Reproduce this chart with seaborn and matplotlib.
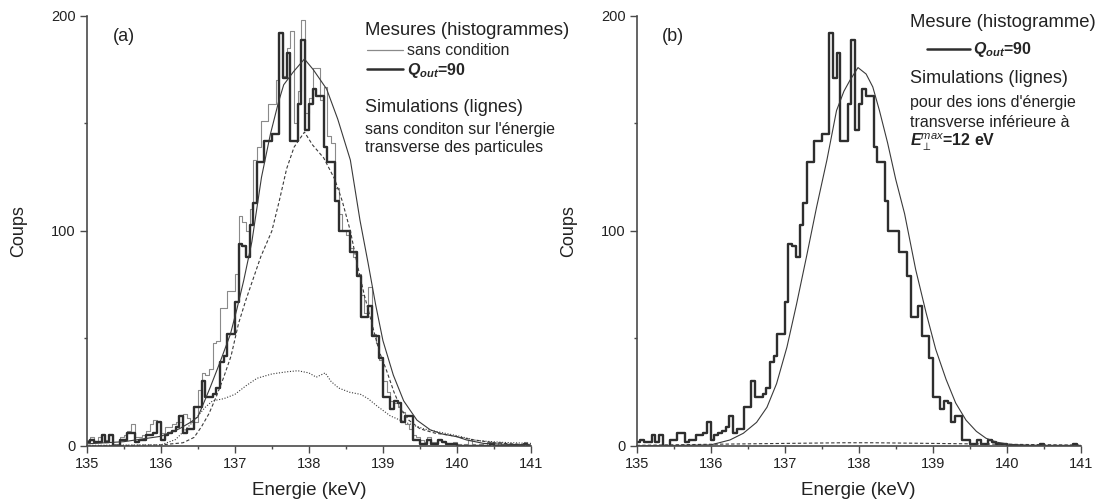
import numpy as np
import pandas as pd
import matplotlib
matplotlib.use("Agg")
import matplotlib.pyplot as plt
import seaborn as sns
from matplotlib.lines import Line2D
from matplotlib.ticker import MultipleLocator

# histogram binning (keV)
e_min = 135.0
e_max = 141.0
bin_width = 0.05

# measured counts per bin, Q_out = 90 (same data in both panels)
counts_q90 = [
    2, 3, 2, 2, 5, 2, 5, 0, 0, 3,
    3, 6, 6, 2, 3, 3, 5, 5, 6, 11,
    3, 5, 6, 7, 9, 14, 6, 8, 8, 18,
    18, 30, 23, 23, 24, 27, 39, 42, 52, 52,
    67, 94, 93, 88, 103, 113, 132, 132, 142, 142,
    145, 145, 192, 171, 183, 142, 142, 159, 189, 147,
    159, 166, 163, 163, 139, 132, 132, 114, 100, 100,
    100, 90, 90, 79, 60, 60, 65, 51, 51, 41,
    23, 23, 17, 21, 20, 11, 14, 14, 3, 3,
    1, 1, 3, 1, 1, 3, 2, 1, 1, 1,
    0, 0, 0, 0, 0, 0, 0, 0, 0, 1,
    0, 0, 0, 0, 0, 0, 0, 0, 1, 0,
]

# measured counts per bin, no condition
counts_all = [
    3, 4, 2, 4, 5, 3, 5, 1, 1, 4,
    5, 7, 10, 4, 4, 5, 7, 10, 12, 11,
    6, 9, 9, 10, 11, 11, 15, 13, 11, 11,
    26, 34, 33, 36, 48, 49, 64, 64, 72, 72,
    80, 107, 104, 100, 110, 133, 139, 151, 151, 159,
    159, 170, 192, 172, 185, 193, 150, 165, 198, 155,
    162, 176, 176, 161, 167, 144, 141, 120, 108, 100,
    98, 92, 88, 80, 70, 62, 74, 52, 48, 40,
    30, 25, 21, 20, 18, 16, 10, 8, 5, 4,
    3, 2, 4, 2, 2, 3, 2, 1, 1, 2,
    1, 0, 1, 3, 1, 0, 1, 0, 2, 2,
    0, 2, 0, 0, 0, 0, 0, 1, 2, 0,
]

# simulations, panel (a)
sim_a_energy = [135.0, 135.5, 136.0, 136.25, 136.4, 136.5, 136.58, 136.67, 136.8, 136.94,
                137.03, 137.12, 137.23, 137.36, 137.48, 137.59, 137.66, 137.79, 137.94, 138.06,
                138.18, 138.24, 138.39, 138.56, 138.69, 138.8, 138.9, 139.0, 139.14, 139.28,
                139.46, 139.64, 139.8, 140.0, 140.13, 140.36, 140.63, 141.0]
sim_a_total = [1, 2, 4.5, 8, 11, 13.5, 20, 27.5, 39, 52,
               64, 77, 95, 125, 145, 160, 168, 174, 180, 175,
               169, 166, 152, 133, 105, 85, 66, 49, 33, 21,
               12, 7.5, 5.6, 4.3, 2.8, 1.2, 0.8, 0.5]

dash_a_energy = [135.0, 136.0, 136.3, 136.45, 136.55, 136.65, 136.75, 136.85, 136.95, 137.05,
                 137.15, 137.25, 137.35, 137.5, 137.6, 137.7, 137.8, 137.94, 138.05, 138.2,
                 138.35, 138.45, 138.56, 138.65, 138.75, 138.85, 138.95, 139.05, 139.15, 139.25,
                 139.35, 139.5, 139.7, 139.9, 140.2, 140.5, 141.0]
dash_a_counts = [0, 0.5, 1.5, 4, 9, 15, 23, 32, 42, 57,
                 68, 78, 88, 100, 114, 129, 139, 146, 140, 134,
                 124, 114, 100, 85, 70, 57, 44, 35, 25, 17,
                 12, 8, 6, 5, 3, 1.5, 0.5]

dot_a_energy = [135.0, 136.0, 136.2, 136.4, 136.5, 136.6, 136.7, 136.85, 137.0, 137.15,
                137.3, 137.5, 137.7, 137.85, 138.0, 138.1, 138.22, 138.3, 138.4, 138.55,
                138.7, 138.8, 138.92, 139.1, 139.3, 139.55, 139.77, 140.0, 140.27, 140.6, 141.0]
dot_a_counts = [0.3, 0.5, 3, 10, 14, 18, 21, 22, 24, 28,
                31.5, 33.5, 34.5, 35, 34, 32, 34, 30, 27, 25,
                24, 22, 18.6, 14, 11, 8, 6.4, 4.8, 2.5, 1.7, 1.2]

# simulations, panel (b)
sim_b_energy = [135.0, 136.0, 136.26, 136.44, 136.62, 136.76, 136.89, 137.03, 137.16, 137.3,
                137.43, 137.57, 137.7, 137.8, 137.88, 137.99, 138.1, 138.19, 138.28, 138.39,
                138.5, 138.62, 138.77, 138.91, 139.04, 139.18, 139.31, 139.45, 139.59, 139.72,
                139.86, 140.03, 140.3, 141.0]
sim_b_counts = [0, 0.5, 2.8, 5.9, 11, 18, 29, 46, 66, 89,
                111, 133, 156, 165, 170, 176, 173, 167, 156, 141,
                124, 108, 82, 62, 45, 31, 20, 12, 6.8, 3.6,
                1.8, 0.8, 0.3, 0]

dash_b_energy = [135.0, 136.0, 137.0, 137.8, 138.2, 139.0, 140.0, 141.0]
dash_b_counts = [0.3, 0.8, 1.2, 1.5, 1.5, 1.2, 0.8, 0.4]


sns.set_style("ticks")
plt.rcParams['font.family'] = ['Liberation Sans', 'DejaVu Sans']
plt.rcParams['mathtext.fontset'] = 'custom'
plt.rcParams['mathtext.rm'] = 'Liberation Sans'
plt.rcParams['mathtext.it'] = 'Liberation Sans:italic'
plt.rcParams['mathtext.bf'] = 'Liberation Sans:bold'
plt.rcParams['mathtext.bfit'] = 'Liberation Sans:bold:italic'

THICK = '#2e2e2e'
THIN = '#8a8a8a'
SIM = '#3a3a3a'
AXC = '#4a4a4a'
TXT = '#222222'

hist_df = pd.DataFrame({
    'energy': e_min + bin_width * (np.arange(len(counts_q90)) + 0.5),
    'q90': counts_q90,
    'all': counts_all,
})

fig = plt.figure(figsize=(11.01, 5.04), dpi=100)
ax_a = fig.add_axes([0.0788, 0.1151, 0.4035, 0.8532])
ax_b = fig.add_axes([0.5783, 0.1151, 0.4033, 0.8532])


def step_hist(ax, col, color, lw):
    """
    Draws one measured spectrum as a step outline
    """
    sns.histplot(data=hist_df, x='energy', weights=col, binwidth=bin_width,
                 binrange=(e_min, e_max), element='step', fill=False,
                 color=color, linewidth=lw, ax=ax)


def style_axis(ax, ylab_x):
    """
    Axis limits, ticks and labels shared by both panels
    """
    ax.set_xlim(135, 141)
    ax.set_ylim(0, 200)
    ax.xaxis.set_major_locator(MultipleLocator(1))
    ax.xaxis.set_minor_locator(MultipleLocator(0.5))
    ax.yaxis.set_major_locator(MultipleLocator(100))
    ax.yaxis.set_minor_locator(MultipleLocator(50))
    sns.despine(ax=ax)
    for side in ['left', 'bottom']:
        ax.spines[side].set_color(AXC)
        ax.spines[side].set_linewidth(1.2)
    ax.tick_params(which='major', length=5, width=1, color=AXC, labelsize=10.5,
                   labelcolor=TXT, pad=3)
    ax.tick_params(which='minor', length=2.5, width=1, color=AXC)
    ax.set_xlabel('Energie (keV)', fontsize=13.5, color=TXT, va='top')
    ax.set_ylabel('Coups', fontsize=13, color=TXT)
    ax.xaxis.set_label_coords(0.5, -0.083)
    ax.yaxis.set_label_coords(ylab_x, 0.5)


# panel (a)
step_hist(ax_a, 'all', THIN, 0.8)
step_hist(ax_a, 'q90', THICK, 1.7)
sns.lineplot(x=sim_a_energy, y=sim_a_total, color=SIM, linewidth=0.8, ax=ax_a)
sns.lineplot(x=dash_a_energy, y=dash_a_counts, color=SIM, linewidth=0.8,
             linestyle=(0, (3, 2)), ax=ax_a)
sns.lineplot(x=dot_a_energy, y=dot_a_counts, color=SIM, linewidth=0.8,
             linestyle=(0, (1, 1.5)), ax=ax_a)
style_axis(ax_a, -0.134)

ax_a.text(0.059, 0.952, '(a)', transform=ax_a.transAxes, fontsize=13,
          va='center', ha='left', color=TXT)
ax_a.text(0.6264, 0.9558, 'Mesures (histogrammes)', transform=ax_a.transAxes,
          fontsize=13.3, va='baseline', ha='left', color=TXT)
handles_a = [Line2D([], [], color=THIN, lw=0.9), Line2D([], [], color=THICK, lw=1.8)]
leg_a = ax_a.legend(handles_a, ['sans condition', r'$\mathbfit{Q}_{\mathbfit{out}}$=90'],
                    loc='center left', bbox_to_anchor=(0.6309, 0.8937), frameon=False,
                    borderpad=0, borderaxespad=0, handlelength=2.25, handletextpad=0.25,
                    fontsize=11.5, labelspacing=0.15)
leg_a.get_texts()[1].set_fontweight('bold')
ax_a.text(0.6264, 0.7774, 'Simulations (lignes)', transform=ax_a.transAxes,
          fontsize=13, va='baseline', ha='left', color=TXT)
ax_a.text(0.6264, 0.7256, "sans conditon sur l'énergie", transform=ax_a.transAxes,
          fontsize=11.5, va='baseline', ha='left', color=TXT)
ax_a.text(0.6264, 0.6844, 'transverse des particules', transform=ax_a.transAxes,
          fontsize=11.5, va='baseline', ha='left', color=TXT)

# panel (b)
step_hist(ax_b, 'q90', THICK, 1.7)
sns.lineplot(x=sim_b_energy, y=sim_b_counts, color=SIM, linewidth=0.8, ax=ax_b)
sns.lineplot(x=dash_b_energy, y=dash_b_counts, color=SIM, linewidth=0.8,
             linestyle=(0, (3, 2)), ax=ax_b)
style_axis(ax_b, -0.1345)

ax_b.text(0.057, 0.952, '(b)', transform=ax_b.transAxes, fontsize=13,
          va='center', ha='left', color=TXT)
ax_b.text(0.6155, 0.9737, 'Mesure (histogramme)', transform=ax_b.transAxes,
          fontsize=13.3, va='baseline', ha='left', color=TXT)
leg_b = ax_b.legend([Line2D([], [], color=THICK, lw=1.8)],
                    [r'$\mathbfit{Q}_{\mathbfit{out}}$=90'],
                    loc='center left', bbox_to_anchor=(0.6538, 0.921), frameon=False,
                    borderpad=0, borderaxespad=0, handlelength=2.7, handletextpad=0.2,
                    fontsize=11.5)
leg_b.get_texts()[0].set_fontweight('bold')
ax_b.text(0.6155, 0.8442, 'Simulations (lignes)', transform=ax_b.transAxes,
          fontsize=13, va='baseline', ha='left', color=TXT)
ax_b.text(0.6155, 0.7891, "pour des ions d'énergie", transform=ax_b.transAxes,
          fontsize=11.5, va='baseline', ha='left', color=TXT)
ax_b.text(0.6155, 0.7426, 'transverse inférieure à', transform=ax_b.transAxes,
          fontsize=11.5, va='baseline', ha='left', color=TXT)
ax_b.text(0.6155, 0.696, r'$\mathbfit{E}_{\perp}^{\mathit{max}}$=12 eV',
          transform=ax_b.transAxes, fontsize=11.5, fontweight='bold',
          va='baseline', ha='left', color=TXT)

fig.savefig('out.png', dpi=100)
